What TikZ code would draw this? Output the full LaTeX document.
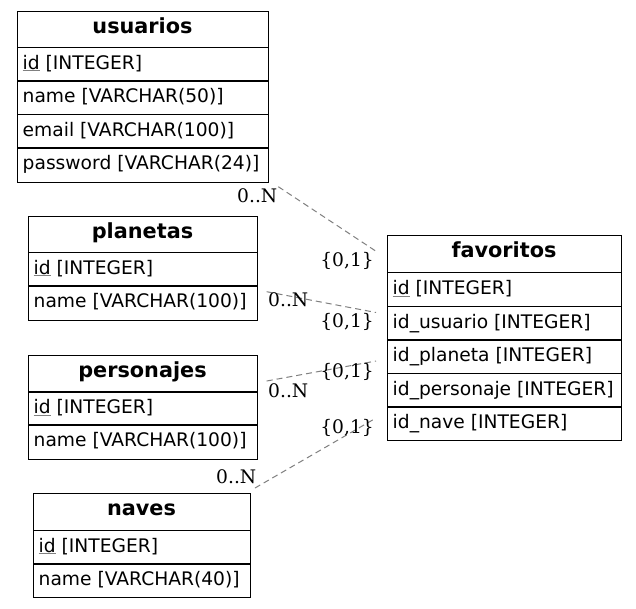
\documentclass[tikz,border=0pt]{standalone}
\usepackage{fontspec}
\setmainfont{DejaVu Sans}
\newfontfamily\lblfont{DejaVu Serif}
\newcommand\pkey[1]{{\color{gray}\underline{\color{black}#1}}}
\tikzset{
  tbl/.style={draw=black, line width=1.1pt, inner sep=0pt, anchor=north west},
  hdr/.style={font=\bfseries\fontsize{20.8}{24}\selectfont, anchor=base, inner sep=0pt},
  fld/.style={font=\fontsize{18.67}{22}\selectfont, anchor=base west, inner sep=0pt},
  card/.style={font=\lblfont\fontsize{18.67}{22}\selectfont, inner sep=0pt},
  rel/.style={draw=gray, line width=1pt, dash pattern=on 6pt off 4pt},
  rowline/.style={draw=black, line width=1.1pt}
}
\begin{document}
\begin{tikzpicture}[x=1pt, y=-1pt]
\fill[white] (0,0) rectangle (636,608);
\useasboundingbox (0,0) rectangle (636,608);

% usuarios
\node[tbl, minimum width=251pt, minimum height=170.5pt] (usuarios) at (17,11) {};
\foreach \y in {47.5,81,114.5,148} \draw[rowline] (17,\y) -- (268,\y);
\node[hdr] (usuarios-t) at (142.5,33.5) {usuarios};
\node[fld] (usuarios-1) at (22.5,69) {\pkey{id} [INTEGER]};
\node[fld] (usuarios-2) at (22.5,102.5) {name [VARCHAR(50)]};
\node[fld] (usuarios-3) at (22.5,136) {email [VARCHAR(100)]};
\node[fld] (usuarios-4) at (22.5,169.5) {password [VARCHAR(24)]};

% planetas
\node[tbl, minimum width=229pt, minimum height=103.5pt] (planetas) at (28,216) {};
\foreach \y in {252.5,286} \draw[rowline] (28,\y) -- (257,\y);
\node[hdr] (planetas-t) at (142.5,238.5) {planetas};
\node[fld] (planetas-1) at (33.5,274) {\pkey{id} [INTEGER]};
\node[fld] (planetas-2) at (33.5,307.5) {name [VARCHAR(100)]};

% personajes
\node[tbl, minimum width=229pt, minimum height=104pt] (personajes) at (28,354.5) {};
\foreach \y in {392,425} \draw[rowline] (28,\y) -- (257,\y);
\node[hdr] (personajes-t) at (142.5,377) {personajes};
\node[fld] (personajes-1) at (33.5,413.5) {\pkey{id} [INTEGER]};
\node[fld] (personajes-2) at (33.5,446.5) {name [VARCHAR(100)]};

% naves
\node[tbl, minimum width=217pt, minimum height=104pt] (naves) at (33,493) {};
\foreach \y in {530.5,564} \draw[rowline] (33,\y) -- (250,\y);
\node[hdr] (naves-t) at (141.5,515.5) {naves};
\node[fld] (naves-1) at (38.5,552) {\pkey{id} [INTEGER]};
\node[fld] (naves-2) at (38.5,585.5) {name [VARCHAR(40)]};

% favoritos
\node[tbl, minimum width=234pt, minimum height=205pt] (favoritos) at (387,235) {};
\foreach \y in {272.5,306.5,340,373.5,407} \draw[rowline] (387,\y) -- (621,\y);
\node[hdr] (favoritos-t) at (504,257.5) {favoritos};
\node[fld] (favoritos-1) at (392.5,294.5) {\pkey{id} [INTEGER]};
\node[fld] (favoritos-2) at (392.5,328) {id\_usuario [INTEGER]};
\node[fld] (favoritos-3) at (392.5,361.5) {id\_planeta [INTEGER]};
\node[fld] (favoritos-4) at (392.5,395) {id\_personaje [INTEGER]};
\node[fld] (favoritos-5) at (392.5,428.5) {id\_nave [INTEGER]};

% connector end points
\coordinate (u-end) at (278.3,186.7);
\coordinate (fu-end) at (376.7,251.7);
\coordinate (p-end) at (266.7,291.7);
\coordinate (fp-end) at (376,312.5);
\coordinate (c-end) at (266.7,381);
\coordinate (fc-end) at (376,361);
\coordinate (n-end) at (255,488);
\coordinate (fn-end) at (375.5,418.3);

\draw[rel] (u-end) -- (fu-end);
\draw[rel] (p-end) -- (fp-end);
\draw[rel] (c-end) -- (fc-end);
\draw[rel] (n-end) -- (fn-end);

% cardinalities
\node[card, anchor=base east] (c1a) at (277.5,202) {0..N};
\node[card, anchor=base east] (c1b) at (374,266.5) {\{0,1\}};
\node[card, anchor=base west] (c2a) at (268,306) {0..N};
\node[card, anchor=base east] (c2b) at (374,327) {\{0,1\}};
\node[card, anchor=base west] (c3a) at (268,397) {0..N};
\node[card, anchor=base east] (c3b) at (374,377.5) {\{0,1\}};
\node[card, anchor=base east] (c4a) at (256.5,483) {0..N};
\node[card, anchor=base east] (c4b) at (374,433) {\{0,1\}};
\end{tikzpicture}
\end{document}
